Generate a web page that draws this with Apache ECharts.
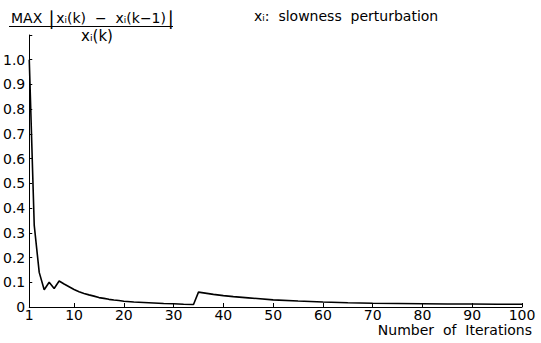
<!DOCTYPE html>
<html>
<head>
<meta charset="utf-8">
<script src="https://cdn.jsdelivr.net/npm/echarts@6/dist/echarts.min.js"></script>
<style>
  html, body { margin: 0; padding: 0; background: #fff; }
  #chart { width: 541px; height: 343px; }
</style>
</head>
<body>
<div id="chart"></div>
<script>
// iteration number (x) and relative max change (y)
var iterations = [1, 2, 3, 4, 5, 6, 7, 8, 9, 10, 11, 12, 13, 14, 15, 16, 17, 18, 19, 20,
    22, 24, 26, 28, 30, 32, 34, 35, 36, 38, 40, 42, 45, 50, 55, 60, 65, 70, 75, 80, 85, 90, 95, 100];
var maxChange = [1.0, 0.33, 0.14, 0.07, 0.10, 0.075, 0.105, 0.093, 0.082, 0.071, 0.062, 0.055, 0.049, 0.044, 0.038, 0.035, 0.031, 0.028, 0.026, 0.023,
    0.020, 0.018, 0.016, 0.014, 0.013, 0.011, 0.010, 0.060, 0.057, 0.051, 0.046, 0.042, 0.037, 0.029, 0.024, 0.020, 0.017, 0.015, 0.014, 0.013, 0.012, 0.012, 0.011, 0.011];
var xLabels = [1, 10, 20, 30, 40, 50, 60, 70, 80, 90, 100];
var xTicks = [10, 20, 30, 40, 50, 60, 70, 80, 90, 100];

var font = 'DejaVu Sans';
var points = iterations.map(function (x, i) { return [x, maxChange[i]]; });

var chart = echarts.init(document.getElementById('chart'), null, { renderer: 'svg' });
var option = {
    backgroundColor: '#fff',
    animation: false,
    grid: { left: 29, right: 19, top: 35, bottom: 36 },
    xAxis: {
        type: 'value',
        min: 1,
        max: 100,
        axisLine: { lineStyle: { color: '#000', width: 1 } },
        axisTick: { inside: true, length: 4, customValues: xTicks, lineStyle: { color: '#000' } },
        axisLabel: { customValues: xLabels, color: '#000', fontFamily: font, fontSize: 14, lineHeight: 12, margin: 2 },
        splitLine: { show: false }
    },
    yAxis: {
        type: 'value',
        min: 0,
        max: 1.1,
        interval: 0.1,
        axisLine: { show: true, lineStyle: { color: '#000', width: 1 } },
        axisTick: { show: true, inside: true, length: 3, lineStyle: { color: '#000' } },
        axisLabel: {
            color: '#000', fontFamily: font, fontSize: 14, margin: 4,
            formatter: function (v) {
                if (v > 1.05) return '';
                if (v === 0) return '0';
                return v.toFixed(1);
            }
        },
        splitLine: { show: false }
    },
    graphic: [
        { type: 'text', left: 11, top: 8,
          style: {
              text: 'MAX {b|\u2223}xᵢ(k)  −  xᵢ(k−1){b|\u2223}',
              font: '14px "DejaVu Sans"', fill: '#000',
              rich: { b: { fontSize: 19, fontFamily: 'DejaVu Sans', fill: '#000' } }
          } },
        { type: 'line', shape: { x1: 9, y1: 26.5, x2: 173, y2: 26.5 }, style: { stroke: '#000', lineWidth: 1 } },
        { type: 'text', left: 81, top: 28,
          style: { text: 'xᵢ(k)', font: '15px "DejaVu Sans"', fill: '#000' } },
        { type: 'text', left: 254, top: 9,
          style: { text: 'xᵢ:  slowness  perturbation', font: '14px "DejaVu Sans"', fill: '#000' } },
        { type: 'text', right: 9, top: 323,
          style: { text: 'Number  of  Iterations', font: '14px "DejaVu Sans"', fill: '#000' } }
    ],
    series: [{
        type: 'line',
        data: points,
        showSymbol: false,
        lineStyle: { color: '#000', width: 1.6 }
    }]
};
chart.setOption(option);
</script>
</body>
</html>
